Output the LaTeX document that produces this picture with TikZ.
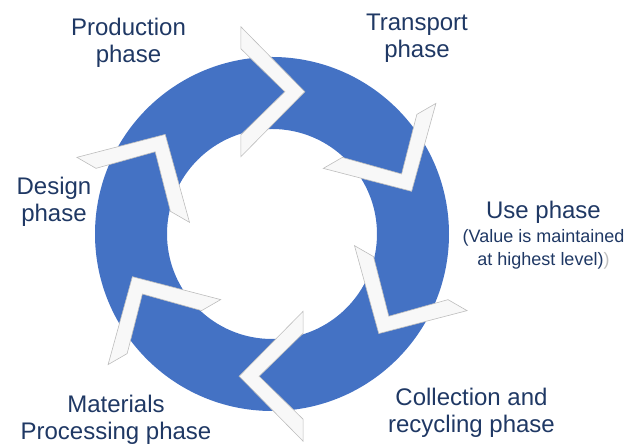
\documentclass[tikz,border=0pt]{standalone}
\usepackage{fontspec}
\setmainfont{Liberation Sans}
\usetikzlibrary{calc}
\definecolor{ringblue}{HTML}{4472C4}
\definecolor{phasetext}{HTML}{1F3864}
\definecolor{chevfill}{HTML}{F8F8F8}
\definecolor{chevline}{HTML}{BDBDBD}
\tikzset{
  phase/.style={text=phasetext, align=center, anchor=base, inner sep=0pt,
    font=\fontsize{24}{27}\selectfont},
  note/.style={phase, font=\fontsize{18}{23}\selectfont},
  chevron/.pic={
    \draw[line width=0.6pt, chevline, fill=chevfill]
      (0,0) -- (-64,65) -- (-64,43) -- (-20,0) -- (-64,-43) -- (-64,-65) -- cycle;
  }
}

\begin{document}
\begin{tikzpicture}[x=1pt, y=1pt]
\useasboundingbox (0,0) rectangle (641,446);
\coordinate (c) at (272,212);
% the ring
\fill[ringblue, even odd rule] (c) circle (177pt) (c) circle (105pt);
% chevrons going round clockwise
\foreach \a in {77,17,-43,-103,-163,137}
  \pic[rotate=\a-77] at ($(c)+(\a:146pt)$) {chevron};
% phase names (base sits on the last line)
\node[phase] (prod) at (128.5,383) {Production\\phase};
\node[phase] (trans) at (417,388) {Transport\\phase};
\node[phase] (use) at (543.5,227) {Use phase};
\node[note] (usenote) at (543.5,180) {(Value is maintained\\at highest level)\textcolor{lightgray}{)}};
\node[phase] (coll) at (471.5,13) {Collection and\\recycling phase};
\node[phase] (mat) at (116,6) {Materials\\Processing phase};
\node[phase] (design) at (54,224) {Design\\phase};
\end{tikzpicture}
\end{document}
